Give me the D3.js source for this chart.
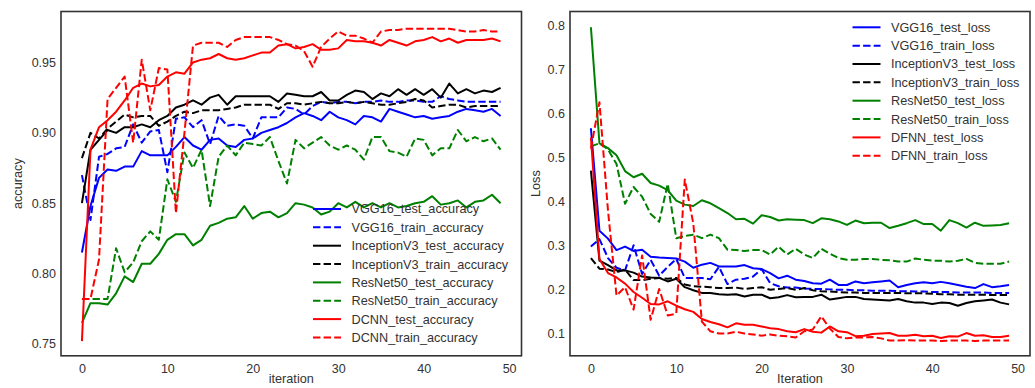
<!DOCTYPE html>
<html>
<head>
<meta charset="utf-8">
<script src="https://cdn.jsdelivr.net/npm/d3@7"></script>
<style>
  body { margin: 0; background: #fff; }
  text { font-family: "Liberation Sans", Arial, sans-serif; fill: #333; }
</style>
</head>
<body>
<svg id="chart" width="1035" height="388"></svg>
<script>
// accuracy per iteration (0..49)
const vgg16TestAcc = [0.815, 0.848, 0.868, 0.874, 0.873, 0.876, 0.876, 0.887, 0.884, 0.884, 0.884, 0.890, 0.897, 0.891, 0.888, 0.895, 0.896, 0.891, 0.890, 0.895, 0.896, 0.900, 0.902, 0.904, 0.907, 0.911, 0.914, 0.912, 0.909, 0.915, 0.911, 0.909, 0.906, 0.912, 0.911, 0.908, 0.917, 0.915, 0.913, 0.911, 0.912, 0.910, 0.911, 0.912, 0.915, 0.917, 0.916, 0.915, 0.917, 0.912];
const vgg16TrainAcc = [0.870, 0.838, 0.883, 0.885, 0.889, 0.890, 0.906, 0.893, 0.901, 0.902, 0.872, 0.910, 0.911, 0.904, 0.909, 0.892, 0.912, 0.905, 0.906, 0.905, 0.896, 0.911, 0.911, 0.911, 0.918, 0.917, 0.913, 0.919, 0.922, 0.921, 0.922, 0.922, 0.921, 0.922, 0.922, 0.923, 0.922, 0.922, 0.923, 0.923, 0.922, 0.922, 0.926, 0.924, 0.923, 0.922, 0.922, 0.922, 0.922, 0.922];
const inceptionTestAcc = [0.850, 0.888, 0.895, 0.902, 0.900, 0.904, 0.904, 0.906, 0.904, 0.909, 0.912, 0.918, 0.920, 0.923, 0.920, 0.925, 0.927, 0.920, 0.926, 0.926, 0.926, 0.926, 0.926, 0.922, 0.928, 0.927, 0.926, 0.926, 0.929, 0.923, 0.923, 0.927, 0.930, 0.929, 0.924, 0.928, 0.926, 0.931, 0.927, 0.931, 0.927, 0.931, 0.925, 0.935, 0.928, 0.931, 0.928, 0.930, 0.929, 0.932];
const inceptionTrainAcc = [0.882, 0.900, 0.896, 0.903, 0.908, 0.913, 0.911, 0.912, 0.912, 0.905, 0.908, 0.912, 0.915, 0.914, 0.916, 0.916, 0.916, 0.917, 0.918, 0.920, 0.920, 0.920, 0.920, 0.917, 0.921, 0.921, 0.920, 0.921, 0.922, 0.921, 0.921, 0.922, 0.921, 0.922, 0.921, 0.920, 0.920, 0.921, 0.922, 0.924, 0.923, 0.918, 0.919, 0.920, 0.920, 0.918, 0.919, 0.919, 0.919, 0.919];
const resnetTestAcc = [0.765, 0.779, 0.779, 0.778, 0.786, 0.798, 0.794, 0.807, 0.807, 0.814, 0.824, 0.828, 0.828, 0.820, 0.824, 0.834, 0.836, 0.839, 0.840, 0.848, 0.839, 0.843, 0.844, 0.840, 0.843, 0.850, 0.849, 0.847, 0.842, 0.844, 0.850, 0.847, 0.851, 0.847, 0.850, 0.847, 0.850, 0.847, 0.848, 0.850, 0.851, 0.855, 0.849, 0.850, 0.852, 0.847, 0.851, 0.852, 0.856, 0.850];
const resnetTrainAcc = [0.782, 0.782, 0.782, 0.782, 0.818, 0.801, 0.808, 0.823, 0.830, 0.824, 0.867, 0.851, 0.886, 0.875, 0.888, 0.848, 0.883, 0.891, 0.884, 0.893, 0.892, 0.891, 0.897, 0.880, 0.864, 0.895, 0.889, 0.893, 0.897, 0.891, 0.888, 0.891, 0.888, 0.881, 0.897, 0.897, 0.887, 0.886, 0.883, 0.896, 0.895, 0.884, 0.889, 0.889, 0.902, 0.894, 0.897, 0.894, 0.896, 0.888];
const dcnnTestAcc = [0.752, 0.888, 0.904, 0.909, 0.915, 0.923, 0.932, 0.935, 0.933, 0.934, 0.940, 0.943, 0.942, 0.950, 0.952, 0.953, 0.956, 0.953, 0.952, 0.953, 0.955, 0.957, 0.957, 0.962, 0.963, 0.960, 0.961, 0.963, 0.959, 0.959, 0.960, 0.966, 0.965, 0.965, 0.964, 0.962, 0.966, 0.964, 0.962, 0.965, 0.966, 0.968, 0.965, 0.967, 0.964, 0.966, 0.966, 0.966, 0.967, 0.965];
const dcnnTrainAcc = [0.782, 0.782, 0.810, 0.924, 0.932, 0.940, 0.893, 0.952, 0.916, 0.946, 0.945, 0.843, 0.900, 0.962, 0.964, 0.964, 0.964, 0.961, 0.966, 0.968, 0.968, 0.968, 0.968, 0.966, 0.963, 0.962, 0.958, 0.947, 0.961, 0.967, 0.972, 0.969, 0.969, 0.967, 0.964, 0.972, 0.973, 0.973, 0.974, 0.974, 0.974, 0.974, 0.974, 0.974, 0.973, 0.972, 0.972, 0.973, 0.972, 0.972];

// loss per iteration (0..49)
const vgg16TestLoss = [0.566, 0.334, 0.316, 0.290, 0.298, 0.288, 0.291, 0.275, 0.273, 0.272, 0.271, 0.264, 0.250, 0.257, 0.261, 0.253, 0.253, 0.253, 0.256, 0.249, 0.247, 0.238, 0.226, 0.232, 0.223, 0.220, 0.215, 0.214, 0.223, 0.211, 0.211, 0.219, 0.215, 0.217, 0.219, 0.221, 0.206, 0.211, 0.215, 0.217, 0.215, 0.218, 0.215, 0.211, 0.207, 0.204, 0.213, 0.206, 0.208, 0.211];
const vgg16TrainLoss = [0.298, 0.315, 0.272, 0.250, 0.244, 0.301, 0.236, 0.268, 0.232, 0.252, 0.270, 0.227, 0.227, 0.227, 0.224, 0.252, 0.213, 0.223, 0.225, 0.230, 0.247, 0.215, 0.208, 0.205, 0.205, 0.203, 0.202, 0.202, 0.201, 0.200, 0.200, 0.199, 0.199, 0.198, 0.198, 0.198, 0.197, 0.197, 0.196, 0.196, 0.195, 0.195, 0.195, 0.194, 0.194, 0.194, 0.194, 0.193, 0.193, 0.193];
const inceptionTestLoss = [0.470, 0.266, 0.256, 0.244, 0.244, 0.239, 0.230, 0.228, 0.227, 0.219, 0.225, 0.206, 0.199, 0.193, 0.193, 0.190, 0.189, 0.190, 0.185, 0.189, 0.189, 0.181, 0.183, 0.188, 0.183, 0.184, 0.184, 0.189, 0.178, 0.181, 0.184, 0.184, 0.179, 0.178, 0.177, 0.176, 0.179, 0.174, 0.171, 0.171, 0.168, 0.171, 0.170, 0.164, 0.170, 0.174, 0.176, 0.178, 0.171, 0.167];
const inceptionTrainLoss = [0.272, 0.248, 0.246, 0.240, 0.246, 0.222, 0.222, 0.225, 0.227, 0.225, 0.227, 0.212, 0.208, 0.207, 0.206, 0.204, 0.204, 0.205, 0.202, 0.204, 0.206, 0.200, 0.202, 0.204, 0.200, 0.204, 0.199, 0.197, 0.196, 0.195, 0.194, 0.194, 0.193, 0.193, 0.193, 0.193, 0.193, 0.192, 0.192, 0.192, 0.191, 0.190, 0.190, 0.189, 0.189, 0.189, 0.189, 0.188, 0.188, 0.188];
const resnetTestLoss = [0.795, 0.532, 0.521, 0.505, 0.469, 0.455, 0.463, 0.442, 0.436, 0.426, 0.402, 0.393, 0.390, 0.403, 0.396, 0.385, 0.374, 0.360, 0.361, 0.350, 0.369, 0.365, 0.357, 0.360, 0.359, 0.358, 0.351, 0.362, 0.360, 0.355, 0.347, 0.357, 0.351, 0.352, 0.352, 0.340, 0.345, 0.351, 0.358, 0.349, 0.349, 0.334, 0.358, 0.351, 0.341, 0.352, 0.345, 0.346, 0.347, 0.351];
const resnetTrainLoss = [0.525, 0.532, 0.518, 0.485, 0.395, 0.433, 0.411, 0.372, 0.354, 0.440, 0.317, 0.322, 0.325, 0.317, 0.325, 0.317, 0.291, 0.290, 0.288, 0.290, 0.290, 0.280, 0.298, 0.280, 0.293, 0.280, 0.272, 0.293, 0.282, 0.272, 0.268, 0.268, 0.270, 0.270, 0.268, 0.267, 0.264, 0.264, 0.271, 0.268, 0.266, 0.266, 0.264, 0.266, 0.270, 0.261, 0.259, 0.259, 0.259, 0.264];
const dfnnTestLoss = [0.545, 0.270, 0.238, 0.228, 0.214, 0.195, 0.182, 0.168, 0.167, 0.174, 0.164, 0.156, 0.150, 0.134, 0.127, 0.122, 0.115, 0.124, 0.121, 0.121, 0.117, 0.113, 0.111, 0.106, 0.104, 0.111, 0.105, 0.103, 0.117, 0.106, 0.104, 0.095, 0.096, 0.100, 0.101, 0.102, 0.096, 0.096, 0.098, 0.095, 0.096, 0.091, 0.095, 0.094, 0.102, 0.096, 0.097, 0.093, 0.093, 0.096];
const dfnnTrainLoss = [0.520, 0.625, 0.380, 0.187, 0.206, 0.155, 0.278, 0.132, 0.202, 0.142, 0.146, 0.450, 0.350, 0.128, 0.106, 0.101, 0.101, 0.105, 0.101, 0.099, 0.096, 0.099, 0.096, 0.095, 0.092, 0.106, 0.110, 0.140, 0.112, 0.093, 0.090, 0.092, 0.092, 0.093, 0.090, 0.085, 0.085, 0.086, 0.085, 0.085, 0.085, 0.084, 0.085, 0.085, 0.085, 0.084, 0.085, 0.085, 0.085, 0.085];

const iterTicks = [0, 10, 20, 30, 40, 50];
const accTicks = [0.75, 0.80, 0.85, 0.90, 0.95];
const lossTicks = [0.1, 0.2, 0.3, 0.4, 0.5, 0.6, 0.7, 0.8];

const accSeries = [
	{ name: "VGG16_test_accuracy", values: vgg16TestAcc, color: "#0000ff", dashed: false },
	{ name: "VGG16_train_accuracy", values: vgg16TrainAcc, color: "#0000ff", dashed: true },
	{ name: "InceptionV3_test_accuracy", values: inceptionTestAcc, color: "#000000", dashed: false },
	{ name: "InceptionV3_train_accuracy", values: inceptionTrainAcc, color: "#000000", dashed: true },
	{ name: "ResNet50_test_accuracy", values: resnetTestAcc, color: "#008000", dashed: false },
	{ name: "ResNet50_train_accuracy", values: resnetTrainAcc, color: "#008000", dashed: true },
	{ name: "DCNN_test_accuracy", values: dcnnTestAcc, color: "#ff0000", dashed: false },
	{ name: "DCNN_train_accuracy", values: dcnnTrainAcc, color: "#ff0000", dashed: true }
];

const lossSeries = [
	{ name: "VGG16_test_loss", values: vgg16TestLoss, color: "#0000ff", dashed: false },
	{ name: "VGG16_train_loss", values: vgg16TrainLoss, color: "#0000ff", dashed: true },
	{ name: "InceptionV3_test_loss", values: inceptionTestLoss, color: "#000000", dashed: false },
	{ name: "InceptionV3_train_loss", values: inceptionTrainLoss, color: "#000000", dashed: true },
	{ name: "ResNet50_test_loss", values: resnetTestLoss, color: "#008000", dashed: false },
	{ name: "ResNet50_train_loss", values: resnetTrainLoss, color: "#008000", dashed: true },
	{ name: "DFNN_test_loss", values: dfnnTestLoss, color: "#ff0000", dashed: false },
	{ name: "DFNN_train_loss", values: dfnnTrainLoss, color: "#ff0000", dashed: true }
];

const svg = d3.select("#chart");
const DASH = "7.4,3.2";

function drawPanel(cfg) {
	const x = d3.scaleLinear().domain([-2.45, 51.45]).range([cfg.left, cfg.right]);
	const y = d3.scaleLinear().domain(cfg.yDomain).range([cfg.bottom, cfg.top]);

	const g = svg.append("g");

	const line = d3.line()
		.x((d, i) => x(i))
		.y(d => y(d));

	g.selectAll(".series")
		.data(cfg.series)
		.enter().append("path")
		.attr("fill", "none")
		.attr("stroke", d => d.color)
		.attr("stroke-width", 2)
		.attr("stroke-linejoin", "round")
		.attr("stroke-dasharray", d => d.dashed ? DASH : null)
		.attr("d", d => line(d.values));

	// frame
	g.append("rect")
		.attr("x", cfg.left)
		.attr("y", cfg.top)
		.attr("width", cfg.right - cfg.left)
		.attr("height", cfg.bottom - cfg.top)
		.attr("fill", "none")
		.attr("stroke", "#333")
		.attr("stroke-width", 1.6);

	// tick labels only, no tick marks
	const xAxis = g.append("g")
		.attr("transform", `translate(0,${cfg.bottom})`)
		.call(d3.axisBottom(x).tickValues(iterTicks).tickSize(0).tickPadding(8));
	const yAxis = g.append("g")
		.attr("transform", `translate(${cfg.left},0)`)
		.call(d3.axisLeft(y).tickValues(cfg.yTicks).tickSize(0).tickPadding(5).tickFormat(d3.format(cfg.yFormat)));
	[xAxis, yAxis].forEach(a => {
		a.select(".domain").remove();
		a.selectAll("text")
			.attr("fill", "#444")
			.style("font-size", "12.5px")
			.style("font-family", "'Liberation Sans', Arial, sans-serif");
	});

	g.append("text")
		.attr("x", (cfg.left + cfg.right) / 2)
		.attr("y", 383)
		.attr("text-anchor", "middle")
		.attr("fill", "#333")
		.style("font-size", "12.7px")
		.text(cfg.xLabel);

	g.append("text")
		.attr("transform", `translate(${cfg.yLabelX},${(cfg.top + cfg.bottom) / 2}) rotate(-90)`)
		.attr("text-anchor", "middle")
		.attr("fill", "#333")
		.style("font-size", "12.7px")
		.text(cfg.yLabel);

	// legend (no frame)
	const legend = g.append("g");
	const rows = legend.selectAll("g")
		.data(cfg.series)
		.enter().append("g")
		.attr("transform", (d, i) => `translate(${cfg.legendX},${cfg.legendY + i * 18.35})`);
	rows.append("line")
		.attr("x1", 0)
		.attr("x2", 28)
		.attr("stroke", d => d.color)
		.attr("stroke-width", 2)
		.attr("stroke-dasharray", d => d.dashed ? DASH : null);
	rows.append("text")
		.attr("x", 38.5)
		.attr("dy", "0.35em")
		.attr("fill", "#333")
		.style("font-size", "12.7px")
		.text(d => d.name);
}

drawPanel({
	series: accSeries,
	left: 61, right: 521.5, top: 11.5, bottom: 355.8,
	yDomain: [0.7416, 0.9862],
	yTicks: accTicks,
	yFormat: ".2f",
	xLabel: "iteration",
	yLabel: "accuracy",
	yLabelX: 22,
	legendX: 313,
	legendY: 209
});

drawPanel({
	series: lossSeries,
	left: 570, right: 1030, top: 11.5, bottom: 355.8,
	yDomain: [0.0505, 0.8306],
	yTicks: lossTicks,
	yFormat: ".1f",
	xLabel: "Iteration",
	yLabel: "Loss",
	yLabelX: 540,
	legendX: 852.5,
	legendY: 27.3
});
</script>
</body>
</html>
